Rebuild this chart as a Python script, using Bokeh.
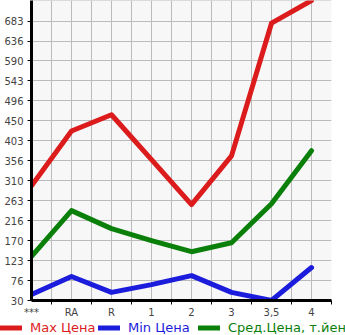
from bokeh.plotting import figure
from bokeh.layouts import column
from bokeh.models import FixedTicker, Range1d, Legend, LegendItem
from bokeh.embed import file_html
from bokeh.resources import INLINE

categories = ["***", "RA", "R", "1", "2", "3", "3,5", "4"]
max_price = [298, 426, 464, 359, 254, 368, 678, 731]
min_price = [44, 86, 49, 67, 88, 49, 30, 107]
avg_price = [133, 240, 198, 170, 144, 165, 256, 380]
y_tick_labels = ["30", "76", "123", "170", "216", "263", "310", "356",
                 "403", "450", "496", "543", "590", "636", "683"]
series_labels = ["Max Цена", "Min Цена", "Сред.Цена, т.йен"]
y_min = 30
y_step = 46.64
y_max = 731

xs = list(range(len(categories)))
y_ticks = [y_min + i * y_step for i in range(len(y_tick_labels))]

FONT = "DejaVu Sans"
RED = "#dc1c1c"
BLUE = "#1c1cdc"
GREEN = "#0a800a"

p = figure(width=345, height=320, output_backend="svg", toolbar_location=None,
           x_range=Range1d(0, 7.5), y_range=Range1d(y_min, y_max),
           min_border_left=31, min_border_right=14, min_border_top=0,
           min_border_bottom=17)
p.frame_align = False
p.background_fill_color = "#f7f7f7"
p.border_fill_color = "white"
p.outline_line_color = None

# x axis
p.xaxis.ticker = FixedTicker(ticks=xs, minor_ticks=[x + 0.5 for x in xs])
p.xaxis.major_label_overrides = {i: c for i, c in enumerate(categories)}
p.xaxis.major_tick_line_color = None
p.xaxis.minor_tick_out = 4
p.xaxis.minor_tick_in = 0
p.xaxis.minor_tick_line_color = "black"
p.xaxis.axis_line_width = 3
p.xaxis.axis_line_color = "black"
p.xaxis.major_label_text_font = FONT
p.xaxis.major_label_text_font_size = "10px"
p.xaxis.major_label_standoff = 0

# y axis
p.yaxis.ticker = FixedTicker(ticks=y_ticks, minor_ticks=[])
p.yaxis.major_label_overrides = {t: l for t, l in zip(y_ticks, y_tick_labels)}
p.yaxis.major_tick_out = 4
p.yaxis.major_tick_in = 0
p.yaxis.major_tick_line_color = "black"
p.yaxis.axis_line_width = 3
p.yaxis.axis_line_color = "black"
p.yaxis.major_label_text_font = FONT
p.yaxis.major_label_text_font_size = "10px"
p.yaxis.major_label_standoff = 4

# grids
p.xgrid.ticker = FixedTicker(ticks=[i * 0.5 for i in range(16)])
p.ygrid.ticker = FixedTicker(ticks=y_ticks + [y_max - 0.5])
p.xgrid.grid_line_color = "#bbbbbb"
p.ygrid.grid_line_color = "#bbbbbb"

series = [max_price, min_price, avg_price]
colors = [RED, BLUE, GREEN]
for vals, col in zip(series, colors):
    p.line(xs, vals, line_color=col, line_width=5, line_join="round", line_cap="round")

# legend strip (a separate figure so the legend is not clipped)
lp = figure(width=345, height=15, output_backend="svg", toolbar_location=None,
            x_range=Range1d(0, 1), y_range=Range1d(-2, -1),
            min_border=0, min_border_left=0, min_border_right=0,
            min_border_top=0, min_border_bottom=0)
lp.frame_align = False
lp.axis.visible = False
lp.grid.visible = False
lp.outline_line_color = None
lp.background_fill_color = "white"
lp.border_fill_color = "white"

xpos = [0, 98, 198]
for lab, vals, col, xp in zip(series_labels, series, colors, xpos):
    rr = lp.line(xs, vals, line_color=col, line_width=5, line_cap="round")
    lg = Legend(items=[LegendItem(label=lab, renderers=[rr])],
                location=(xp, 0), orientation="horizontal",
                label_text_color=col, label_text_font=FONT,
                label_text_font_size="13px", glyph_width=22, glyph_height=15,
                label_height=15, padding=0, margin=0, spacing=0,
                label_standoff=8, border_line_color=None,
                background_fill_alpha=0)
    lp.add_layout(lg, "center")

layout = column(p, lp, spacing=0)
open("out.html", "w").write(file_html(layout, INLINE))
